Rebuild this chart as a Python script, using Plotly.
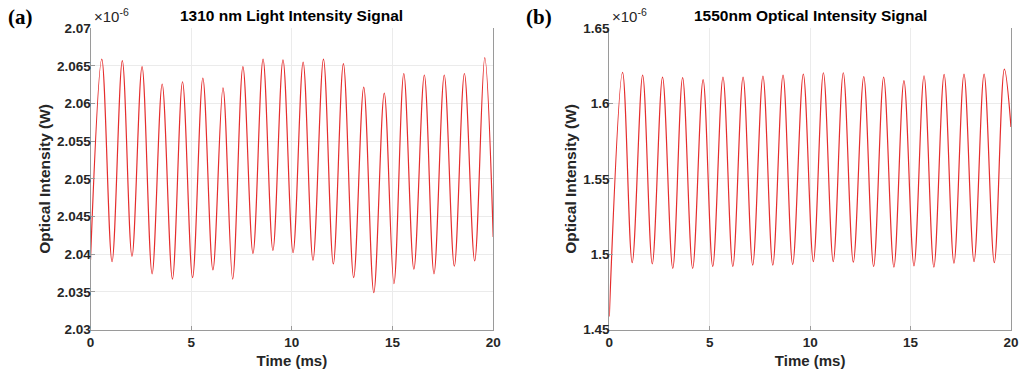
import plotly.graph_objects as go

W, H = 1019, 376

# ---------------- data (values in units of 1e-6 W) ----------------
time_1310 = [0, 0.56, 1.07, 1.58, 2.06, 2.56, 3.06, 3.56, 4.07, 4.57, 5.07, 5.58, 6.08, 6.58,
             7.06, 7.57, 8.07, 8.57, 9.06, 9.56, 10.06, 10.56, 11.05, 11.57, 12.06, 12.56,
             13.07, 13.57, 14.07, 14.59, 15.07, 15.56, 16.06, 16.58, 17.06, 17.57, 18.07,
             18.57, 19.08, 19.58, 20]
power_1310 = [2.0392, 2.0659, 2.0390, 2.0657, 2.0397, 2.0649, 2.0374, 2.0626, 2.0367, 2.0629,
              2.0369, 2.0634, 2.0379, 2.0621, 2.0367, 2.0649, 2.0401, 2.0659, 2.0405, 2.0658,
              2.0402, 2.0655, 2.0392, 2.0659, 2.0387, 2.0653, 2.0369, 2.0622, 2.0349, 2.0614,
              2.0361, 2.0640, 2.0380, 2.0638, 2.0374, 2.0638, 2.0384, 2.0640, 2.0391, 2.0661,
              2.0423]

time_1550 = [0, 0.66, 1.14, 1.66, 2.14, 2.65, 3.16, 3.65, 4.15, 4.67, 5.15, 5.66, 6.15, 6.66,
             7.14, 7.65, 8.14, 8.65, 9.13, 9.66, 10.16, 10.66, 11.15, 11.65, 12.15, 12.67,
             13.16, 13.66, 14.17, 14.67, 15.17, 15.67, 16.16, 16.67, 17.16, 17.66, 18.16,
             18.66, 19.17, 19.67, 20]
power_1550 = [1.4587, 1.6207, 1.4944, 1.6189, 1.4936, 1.6176, 1.4905, 1.6172, 1.4905, 1.6159,
              1.4918, 1.6176, 1.4918, 1.6176, 1.4927, 1.6183, 1.4927, 1.6189, 1.4931, 1.6196,
              1.4951, 1.6205, 1.4951, 1.6205, 1.4947, 1.6179, 1.4918, 1.6176, 1.4914, 1.6152,
              1.4923, 1.6185, 1.4914, 1.6194, 1.4940, 1.6196, 1.4951, 1.6196, 1.4944, 1.6229,
              1.5845]

x_ticks = [0, 5, 10, 15, 20]
x_ticklabels = ["0", "5", "10", "15", "20"]
y1_ticks = [2.03, 2.035, 2.04, 2.045, 2.05, 2.055, 2.06, 2.065, 2.07]
y1_ticklabels = ["2.03", "2.035", "2.04", "2.045", "2.05", "2.055", "2.06", "2.065", "2.07"]
y2_ticks = [1.45, 1.5, 1.55, 1.6, 1.65]
y2_ticklabels = ["1.45", "1.5", "1.55", "1.6", "1.65"]

titles = ["1310 nm Light Intensity Signal", "1550nm Optical Intensity Signal"]
panel_labels = ["(a)", "(b)"]

# ---------------- styling ----------------
RED = "#e52d2d"
AX = "#9a9a9a"
GRID = "#ebebeb"
TXT = "#262626"
SANS = "Liberation Sans, Arial, sans-serif"
SERIF = "Liberation Serif, Times New Roman, serif"

def px(x):
    return x / W

def py(y):
    return 1 - y / H

fig = go.Figure()
fig.add_trace(go.Scatter(x=time_1310, y=power_1310, mode="lines",
                         line=dict(color=RED, width=1.2, shape="spline", smoothing=1),
                         xaxis="x", yaxis="y", showlegend=False))
fig.add_trace(go.Scatter(x=time_1550, y=power_1550, mode="lines",
                         line=dict(color=RED, width=1.2, shape="spline", smoothing=1),
                         xaxis="x2", yaxis="y2", showlegend=False))

tickfont = dict(family=SANS, size=13.5, color=TXT, weight="bold")
titlefont = dict(family=SANS, size=15.5, color=TXT, weight="bold")

def xaxis(domain, anchor):
    return dict(domain=domain, anchor=anchor, range=[0, 20], tickvals=x_ticks,
                ticktext=x_ticklabels, showline=True, linecolor=AX, linewidth=1,
                mirror=False, ticks="inside", ticklen=4, tickcolor=AX, automargin=False,
                showgrid=True, gridcolor=GRID, zeroline=False, tickfont=tickfont,
                title=dict(text="Time (ms)", font=dict(family=SANS, size=15, color=TXT,
                                                      weight="bold"), standoff=6))

def yaxis(domain, anchor, rng, tv, tt):
    return dict(domain=domain, anchor=anchor, range=rng, tickvals=tv, ticktext=tt,
                showline=True, linecolor=AX, linewidth=1, mirror=True, automargin=False,
                ticks="inside", ticklen=4, tickcolor=AX, ticklabelstandoff=-4,
                showgrid=True, gridcolor=GRID, zeroline=False, tickfont=tickfont,
                title=dict(text="Optical Intensity (W)", font=titlefont, standoff=2))

ydom = [46.5 / H, 1 - 28.3 / H]
x1dom = [px(90.5), px(493.2)]
x2dom = [px(609.3), px(1011)]

fig.update_layout(
    width=W, height=H, margin=dict(l=0, r=0, t=0, b=0, autoexpand=False),
    paper_bgcolor="white", plot_bgcolor="white",
    xaxis=xaxis(x1dom, "y"),
    yaxis=yaxis(ydom, "x", [2.03, 2.07], y1_ticks, y1_ticklabels),
    xaxis2=xaxis(x2dom, "y2"),
    yaxis2=yaxis(ydom, "x2", [1.45, 1.65], y2_ticks, y2_ticklabels),
)

ann = []
for dom, title, lab, labx in [(x1dom, titles[0], panel_labels[0], 6),
                              (x2dom, titles[1], panel_labels[1], 524)]:
    ann.append(dict(text=title, x=(dom[0] + dom[1]) / 2, y=py(16), xref="paper", yref="paper",
                    xanchor="center", yanchor="middle", showarrow=False,
                    font=dict(family=SANS, size=15.5, color="black", weight="bold")))
    ann.append(dict(text=lab, x=px(labx), y=py(17), xref="paper", yref="paper",
                    xanchor="left", yanchor="middle", showarrow=False,
                    font=dict(family=SERIF, size=21, color="black", weight="bold")))
    ann.append(dict(text="×10<sup>-6</sup>", x=dom[0] + px(1), y=py(27), xref="paper",
                    yref="paper", xanchor="left", yanchor="bottom", showarrow=False,
                    font=dict(family=SANS, size=15, color=TXT)))
fig.update_layout(annotations=ann)

fig.write_html("out.html",
               config={"displayModeBar": False},
               post_script="document.body.style.margin='0px';"
                           "document.body.style.overflow='hidden';")
